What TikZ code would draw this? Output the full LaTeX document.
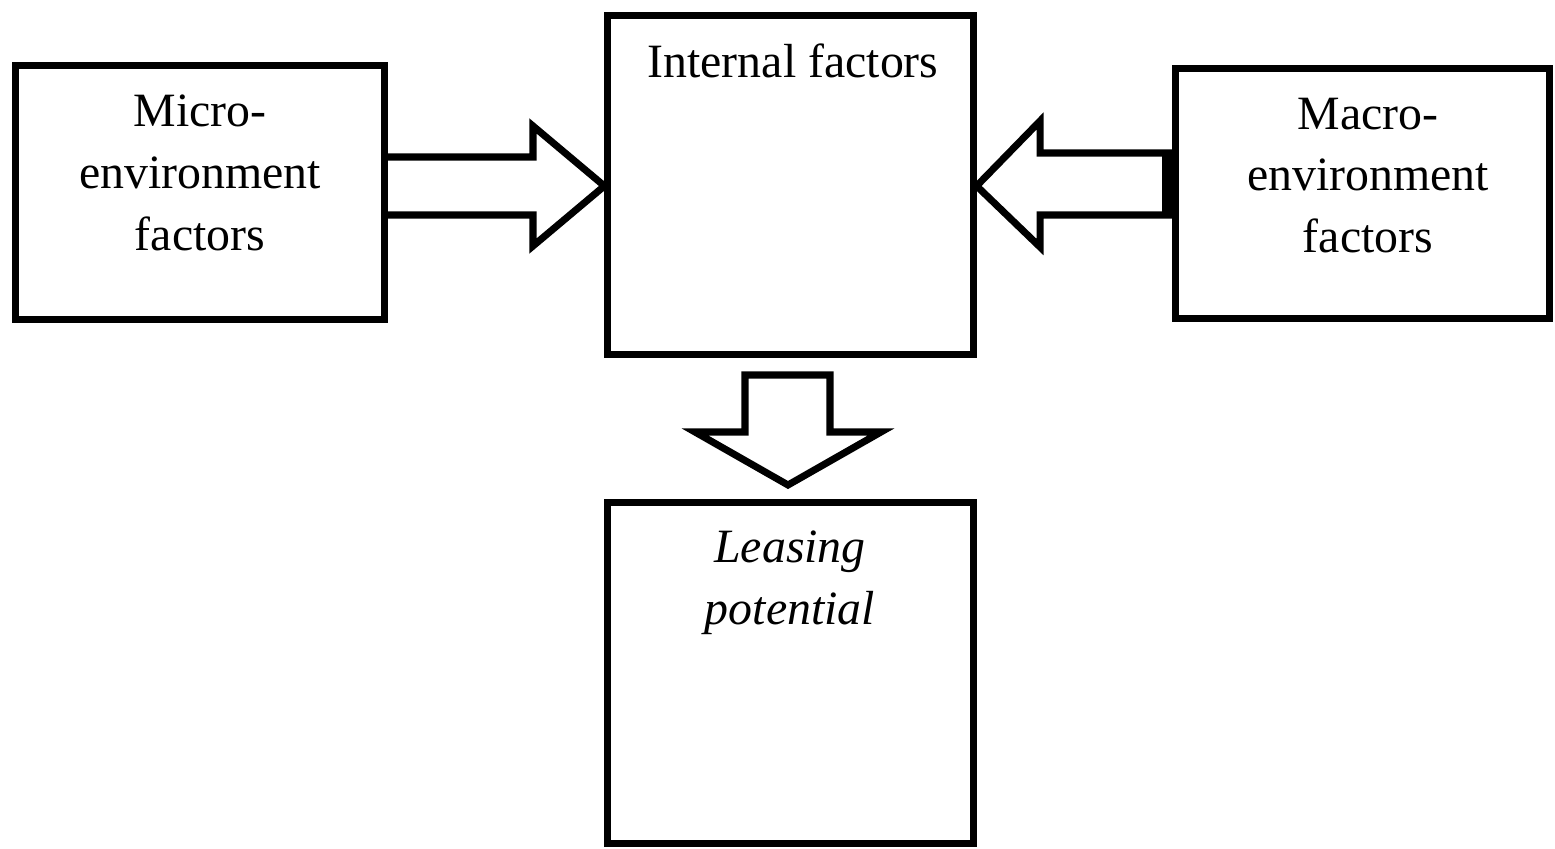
\documentclass[tikz,border=0pt]{standalone}
\usepackage{fontspec}
\setmainfont{Liberation Serif}
\tikzset{
  factorbox/.style={draw,line width=2pt,inner sep=0pt},
  boxlabel/.style={anchor=north,align=center,inner sep=0pt,font=\fontsize{13.6pt}{17.6pt}\selectfont},
  blockarrow/.style={draw,line width=2pt,line join=miter}
}
\begin{document}
\begin{tikzpicture}[x=0.01cm,y=-0.01cm]
    \useasboundingbox (0,0) rectangle (1555,849);
    % boxes
    \node[factorbox,minimum width=3.68cm,minimum height=2.53cm] (micro) at (200,192.5) {};
    \node[factorbox,minimum width=3.65cm,minimum height=3.38cm] (internal) at (790.5,185) {};
    \node[factorbox,minimum width=3.73cm,minimum height=2.49cm] (macro) at (1362.5,193.5) {};
    \node[factorbox,minimum width=3.65cm,minimum height=3.41cm] (leasing) at (790.5,673) {};
    % labels
    \node[boxlabel] (microtext) at (200,94) {Micro-\\environment\\factors};
    \node[boxlabel] (internaltext) at (793,43) {Internal factors};
    \node[boxlabel] (macrotext) at (1368,97) {Macro-\\environment\\factors};
    \node[boxlabel] (leasingtext) at (790,530) {\itshape Leasing\\\itshape potential};
    % block arrows
    \draw[blockarrow] (micro.east |- 0,157) -- (533,157) -- (533,126) -- (internal.west |- 0,186)
        -- (533,246) -- (533,215) -- (micro.east |- 0,215);
    \draw[blockarrow] (macro.west |- 0,153) -- (1040,153) -- (1040,121) -- (internal.east |- 0,186)
        -- (1040,247) -- (1040,215) -- (macro.west |- 0,215);
    \fill (1162,150) rectangle (macro.west |- 0,218);
    \draw[blockarrow] (745,432) -- (745,375) -- (830,375) -- (830,432) -- (881,432) -- (788,485)
        -- (695,432) -- cycle;
\end{tikzpicture}
\end{document}
